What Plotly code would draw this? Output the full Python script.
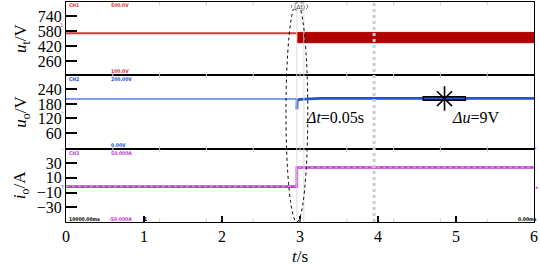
import plotly.graph_objects as go
from plotly.subplots import make_subplots

# ---------------- data ----------------
t_ut_pre = [0.0, 2.96]
ut_pre = [555, 555]
t_ut_band = [2.96, 6.0]
ut_band_hi = [565, 565]
ut_band_lo = [455, 455]

t_uo_pre = [0.0, 2.955, 2.96]
uo_pre = [200, 200, 158]
t_uo_post = [2.96, 2.965, 3.0, 3.1, 3.26, 4.0, 6.0]
uo_post = [158, 196, 199, 201, 203, 203, 203]

t_io = [0.0, 2.96, 2.96, 6.0]
io = [-2, -2, 24, 24]

x_ticks = [0, 1, 2, 3, 4, 5, 6]
ut_ticks = [260, 420, 580, 740]
uo_ticks = [60, 120, 180, 240]
io_ticks = [-30, -10, 10, 30]

FONT = "Liberation Serif"
RED_L = "#d23c3c"
RED_B = "#b00000"
BLUE_L = "#5a7ef0"
BLUE_D = "#2452d2"
MAG = "#c236d2"

fig = make_subplots(rows=3, cols=1, shared_xaxes=True, vertical_spacing=0)

fig.add_trace(go.Scatter(x=t_ut_pre, y=ut_pre, mode="lines",
                         line=dict(color=RED_L, width=2)), row=1, col=1)
fig.add_trace(go.Scatter(x=t_ut_band, y=ut_band_lo, mode="lines",
                         line=dict(color=RED_B, width=1)), row=1, col=1)
fig.add_trace(go.Scatter(x=t_ut_band, y=ut_band_hi, mode="lines", fill="tonexty",
                         fillcolor=RED_B, line=dict(color=RED_B, width=1)), row=1, col=1)

fig.add_trace(go.Scatter(x=t_uo_pre, y=uo_pre, mode="lines",
                         line=dict(color=BLUE_L, width=1.4)), row=2, col=1)
fig.add_trace(go.Scatter(x=t_uo_post, y=uo_post, mode="lines",
                         line=dict(color=BLUE_D, width=2.8)), row=2, col=1)

fig.add_trace(go.Scatter(x=t_io, y=io, mode="lines",
                         line=dict(color=MAG, width=2.6)), row=3, col=1)
fig.add_trace(go.Scatter(x=t_io, y=io, mode="lines",
                         line=dict(color="#e090ea", width=1, dash="dot")), row=3, col=1)

axis_common = dict(showline=True, linecolor="black", linewidth=1.2, mirror=True,
                   showgrid=False, zeroline=False, automargin=False)

for r in (1, 2, 3):
    fig.update_xaxes(range=[0, 6], tickvals=x_ticks, ticks="", showticklabels=False,
                     row=r, col=1, **axis_common)
fig.update_xaxes(showticklabels=True, ticks="inside", ticklen=6, tickwidth=1.5,
                 tickcolor="black",
                 tickfont=dict(family=FONT, size=16, color="black"),
                 row=3, col=1)

yt = dict(ticks="inside", ticklen=11, tickwidth=1.5, tickcolor="black",
          tickfont=dict(family=FONT, size=16, color="black"))
tfont = dict(family=FONT, size=17, color="black")
fig.update_yaxes(range=[106, 890], tickvals=ut_ticks,
                 title=dict(text="<i>u</i><sub>t</sub>/V", font=tfont, standoff=6),
                 row=1, col=1, **yt, **axis_common)
fig.update_yaxes(range=[-5, 298], tickvals=uo_ticks,
                 title=dict(text="<i>u</i><sub>o</sub>/V", font=tfont, standoff=6),
                 row=2, col=1, **yt, **axis_common)
fig.update_yaxes(range=[-50, 49.5], tickvals=io_ticks,
                 title=dict(text="<i>i</i><sub>o</sub>/A", font=tfont, standoff=6),
                 row=3, col=1, **yt, **axis_common)

L, R, T, B = 66, 534, 2, 222


def px(x):
    return (x - L) / (R - L)


def py(y):
    return (B - y) / (B - T)


# ---------------- decorations ----------------
shapes = []
# faint oscilloscope division ticks
for k in range(1, 10):
    xd = 0.6 * k
    for yp in (0, 1 / 3, 2 / 3, 1):
        shapes.append(dict(type="line", xref="x3", yref="paper", x0=xd, x1=xd,
                           y0=max(yp - 0.015, 0), y1=min(yp + 0.015, 1),
                           line=dict(color="#d0d0d0", width=1)))
# cursor lines
shapes.append(dict(type="line", xref="x3", yref="paper", x0=3.95, x1=3.95, y0=0, y1=1,
                   line=dict(color="#cdcdcd", width=3, dash="dot")))
for cx in (2.96, 3.05):
    shapes.append(dict(type="line", xref="x3", yref="paper", x0=cx, x1=cx, y0=0, y1=1,
                       line=dict(color="#dcdcdc", width=1)))
# big dotted ellipse
shapes.append(dict(type="circle", xref="x3", yref="paper", x0=2.82, x1=3.10, y0=0.0, y1=0.995,
                   line=dict(color="black", width=1, dash="dot")))
# small ellipse label at top
shapes.append(dict(type="circle", xref="x3", yref="paper", x0=2.89, x1=3.10, y0=0.962, y1=0.997,
                   line=dict(color="#444", width=0.8, dash="dot"), fillcolor="white"))
# delta-u marker: bar + asterisk
shapes.append(dict(type="rect", xref="x2", yref="y2", x0=4.58, x1=5.12, y0=195, y1=209,
                   line=dict(color="black", width=1.5), fillcolor=BLUE_D))
shapes.append(dict(type="line", xref="x2", yref="y2", x0=4.853, x1=4.853, y0=152, y1=253,
                   line=dict(color="black", width=1.6)))
shapes.append(dict(type="line", xref="x2", yref="y2", x0=4.756, x1=4.949, y0=232, y1=171,
                   line=dict(color="black", width=1.6)))
shapes.append(dict(type="line", xref="x2", yref="y2", x0=4.756, x1=4.949, y0=171, y1=232,
                   line=dict(color="black", width=1.6)))
fig.update_layout(shapes=shapes)

ann = []
ann.append(dict(text="<i>t</i>/s", x=px(300), y=py(256), xref="paper", yref="paper",
                xanchor="center", yanchor="middle", showarrow=False,
                font=dict(family=FONT, size=17, color="black")))
ann.append(dict(text="<i>Δt</i>=0.05s", x=3.05, y=122, xref="x2", yref="y2",
                xanchor="left", yanchor="middle", showarrow=False,
                font=dict(family=FONT, size=16, color="black")))
ann.append(dict(text="<i>Δu</i>=9V", x=4.92, y=122, xref="x2", yref="y2",
                xanchor="left", yanchor="middle", showarrow=False,
                font=dict(family=FONT, size=16, color="black")))
ann.append(dict(text="(Δt)", x=px(299.5), y=py(6.5), xref="paper", yref="paper",
                xanchor="center", yanchor="middle", showarrow=False,
                font=dict(family="DejaVu Sans", size=6, color="#333")))

small = [
    ("CH1", 67, 5, RED_L), ("500.0V", 109, 5, RED_L), ("100.0V", 109, 71, RED_L),
    ("CH2", 67, 79, BLUE_D), ("200.00V", 109, 79, BLUE_D), ("0.00V", 109, 145, BLUE_D),
    ("CH3", 67, 153, MAG), ("50.000A", 109, 153, MAG),
    ("10000.00ms", 67, 219, "black"), ("-50.000A", 107, 219, MAG), ("1", 142, 219, "black"),
    ("0.00ms", 516, 219, "black"),
]
for s, x, y, c in small:
    ann.append(dict(text="<b>%s</b>" % s, x=px(x), y=py(y), xref="paper", yref="paper",
                    xanchor="left", yanchor="middle", showarrow=False,
                    font=dict(family="DejaVu Sans Condensed", size=5, color=c)))
marks = [("1", 61.5, 25, RED_L), ("–", 61.5, 38, RED_L), ("–", 62, 112, BLUE_D),
         ("–", 62, 149, BLUE_D), ("T", 62, 187, MAG), ("◂", 536, 187, MAG),
         ("•", 535.5, 148, BLUE_D)]
for s, x, y, c in marks:
    ann.append(dict(text=s, x=px(x), y=py(y), xref="paper", yref="paper",
                    xanchor="center", yanchor="middle", showarrow=False,
                    font=dict(family="DejaVu Sans", size=5, color=c)))
fig.update_layout(annotations=ann)

fig.update_layout(width=540, height=265, margin=dict(l=L, r=540 - R, t=T, b=265 - B),
                  paper_bgcolor="white", plot_bgcolor="white", showlegend=False)

fig.write_html("out.html", config={"displayModeBar": False},
               post_script="document.body.style.margin='0px';")
